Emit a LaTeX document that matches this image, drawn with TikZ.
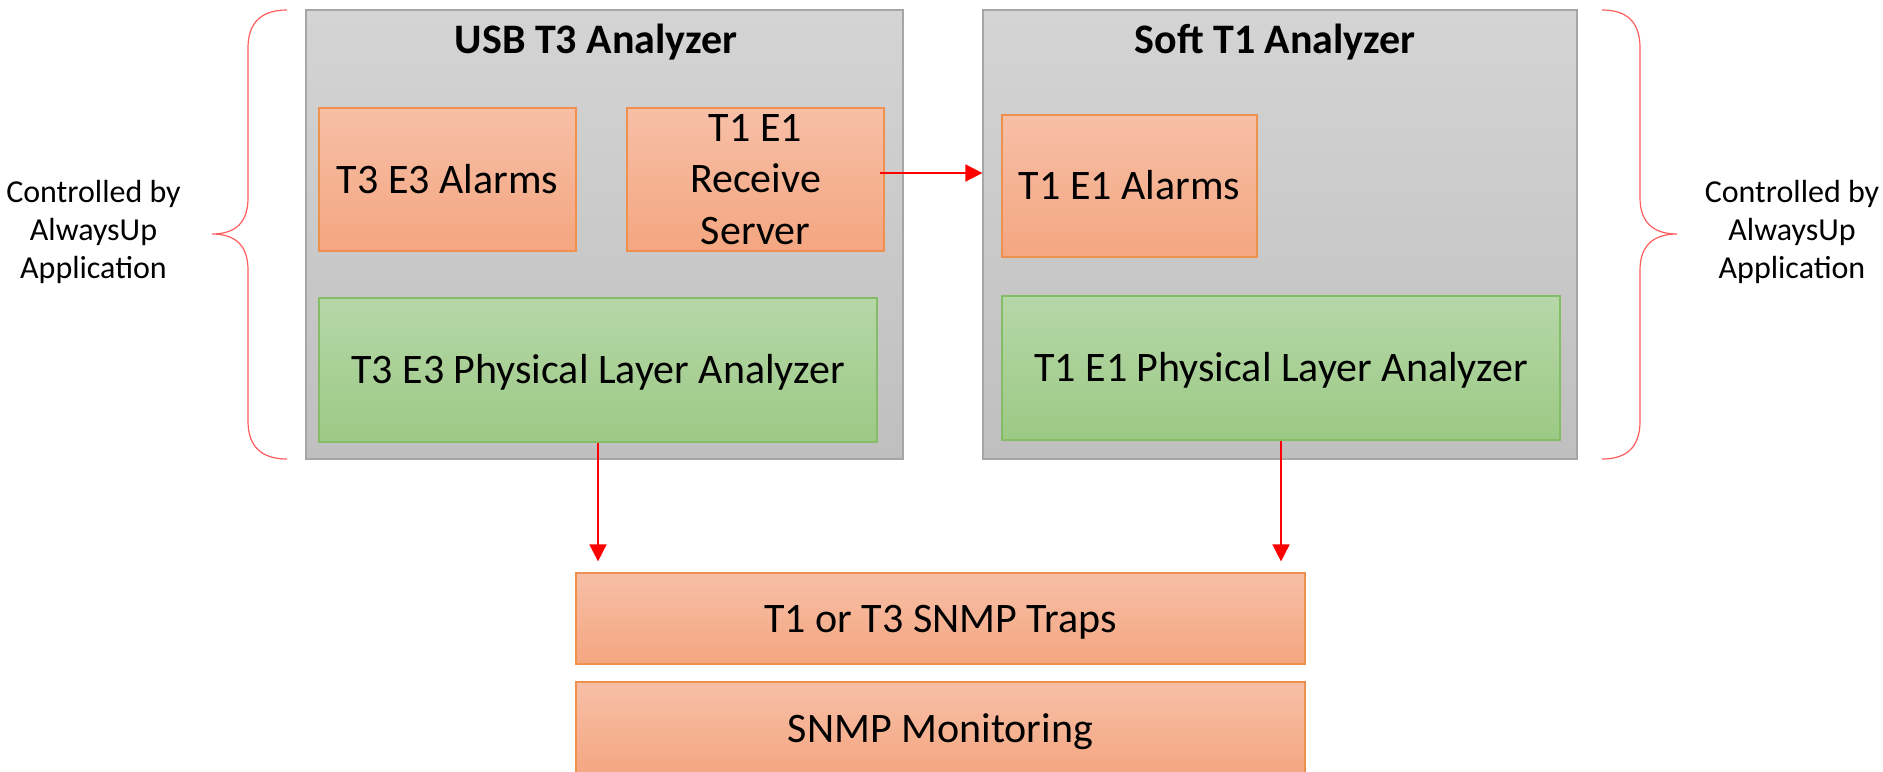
\documentclass[tikz,border=0pt]{standalone}
\usepackage{fontspec}
\setmainfont{Carlito}
\usetikzlibrary{arrows.meta}

% palette
\definecolor{frameTop}{HTML}{D4D4D4}
\definecolor{frameBot}{HTML}{BFBFBF}
\definecolor{frameLine}{HTML}{A6A6A6}
\definecolor{peachTop}{HTML}{F7BFA7}
\definecolor{peachBot}{HTML}{F4A680}
\definecolor{peachLine}{HTML}{F0904F}
\definecolor{leafTop}{HTML}{B6D7A8}
\definecolor{leafBot}{HTML}{9CC985}
\definecolor{leafLine}{HTML}{85BD66}
\definecolor{braceRed}{HTML}{FF5C5C}
\definecolor{flowRed}{HTML}{FF0000}

\tikzset{
  frame/.style={draw=frameLine, line width=0.6pt, top color=frameTop, bottom color=frameBot,
    rectangle, inner sep=0pt},
  peach/.style={draw=peachLine, line width=0.6pt, top color=peachTop, bottom color=peachBot,
    rectangle, inner sep=0pt, align=center, font=\fontsize{21}{25.6}\selectfont},
  leaf/.style={draw=leafLine, line width=0.6pt, top color=leafTop, bottom color=leafBot,
    rectangle, inner sep=0pt, align=center, font=\fontsize{21}{25.6}\selectfont},
  % single-line labels: box centred on the capital height of the 21pt face
  oneline/.style={text height=19.8pt, text depth=6.3pt},
  heading/.style={font=\fontsize{21}{25.6}\selectfont\bfseries, inner sep=0pt, anchor=base},
  sidenote/.style={font=\fontsize{16}{19}\selectfont, align=center, inner sep=0pt},
  curly/.style={draw=braceRed, line width=0.6pt},
  flow/.style={draw=flowRed, line width=0.8pt, -{Triangle[width=8.5pt,length=8.5pt]}},
}

\begin{document}
\begin{tikzpicture}[x=0.5pt, y=-0.5pt]
\useasboundingbox (0,0) rectangle (1883,771);

% analyzer frames
\node[frame, minimum width=597*0.5pt, minimum height=449*0.5pt] (usb) at (604.5,234.5) {};
\node[frame, minimum width=594*0.5pt, minimum height=449*0.5pt] (soft) at (1280,234.5) {};
\node[heading] (usbtitle) at (596,54) {USB T3 Analyzer};
\node[heading] (softtitle) at (1275,54) {Soft T1 Analyzer};

% USB T3 analyzer contents
\node[peach, oneline, minimum width=257*0.5pt, minimum height=143*0.5pt] (t3alarm) at (447.5,179.5) {T3 E3 Alarms};
\node[peach, minimum width=257*0.5pt, minimum height=143*0.5pt] (server) at (755.5,179.5) {T1 E1\\Receive\\Server};
\node[leaf, oneline, minimum width=558*0.5pt, minimum height=144*0.5pt] (t3pla) at (598,370) {T3 E3 Physical Layer Analyzer};

% Soft T1 analyzer contents
\node[peach, oneline, minimum width=255*0.5pt, minimum height=142*0.5pt] (t1alarm) at (1129.5,186) {T1 E1 Alarms};
\node[leaf, oneline, minimum width=558*0.5pt, minimum height=144*0.5pt] (t1pla) at (1281,368) {T1 E1 Physical Layer Analyzer};

% SNMP layers
\node[peach, oneline, minimum width=729*0.5pt, minimum height=91*0.5pt] (traps) at (940.5,618.5) {T1 or T3 SNMP Traps};
\node[peach, oneline, minimum width=729*0.5pt, minimum height=93*0.5pt] (monitor) at (940.5,728.5) {SNMP Monitoring};

% side notes
\node[sidenote] (leftnote) at (93.5,232) {Controlled by\\AlwaysUp\\Application};
\node[sidenote] (rightnote) at (1792,232) {Controlled by\\AlwaysUp\\Application};

% braces
\path[curly] (287,10) .. controls (262,10) and (248,22) .. (248,48) -- (248,198)
  .. controls (248,222) and (236,234) .. (212,234)
  .. controls (236,234) and (248,246) .. (248,270) -- (248,421)
  .. controls (248,447) and (262,459) .. (287,459);
\path[curly] (1602,10) .. controls (1627,10) and (1640,22) .. (1640,48) -- (1640,198)
  .. controls (1640,222) and (1653,234) .. (1677,234)
  .. controls (1653,234) and (1640,246) .. (1640,270) -- (1640,421)
  .. controls (1640,447) and (1627,459) .. (1602,459);

% connectors
\draw[flow] ([xshift=-2.5pt,yshift=3.25pt]server.east) -- ([yshift=3.25pt]server.east -| soft.west);
\draw[flow] (t3pla.south) -- ([yshift=5.5pt]t3pla.south |- traps.north);
\draw[flow] (t1pla.south) -- ([yshift=5.5pt]t1pla.south |- traps.north);
\end{tikzpicture}
\end{document}
